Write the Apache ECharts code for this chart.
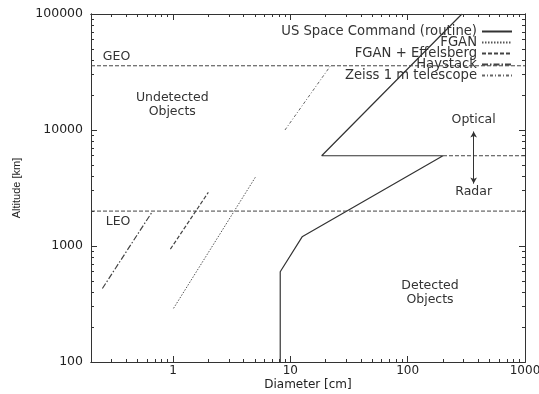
<!DOCTYPE html>
<html><head><meta charset="utf-8">
<script src="https://cdn.jsdelivr.net/npm/echarts@6/dist/echarts.min.js"></script>
<style>html,body{margin:0;padding:0;background:#fff}#c{width:539px;height:394px}</style>
</head><body><div id="c"></div>
<script>
// ---- data ----
const xTickLabels = [1, 10, 100, 1000];
const yTickLabels = [100, 1000, 10000, 100000];
const xMajorTicks = [1, 10, 100, 1000];
const xMinorTicks = [0.2, 0.3, 0.4, 0.5, 0.6, 0.7, 0.8, 0.9, 2, 3, 4, 5, 6, 7, 8, 9, 20, 30, 40, 50, 60, 70, 80, 90, 200, 300, 400, 500, 600, 700, 800, 900];
const yMajorTicks = [100, 1000, 10000, 100000];
const yMinorTicks = [200, 300, 400, 500, 600, 700, 800, 900, 2000, 3000, 4000, 5000, 6000, 7000, 8000, 9000, 20000, 30000, 40000, 50000, 60000, 70000, 80000, 90000];

const seriesNames = ['US Space Command (routine)', 'FGAN', 'FGAN + Effelsberg', 'Haystack', 'Zeiss 1 m telescope'];
const usSpaceCommand = [[8.2, 100], [8.2, 600], [12.6, 1200], [200, 6000], [18.5, 6000], [290, 100000]];
const fgan = [[1.01, 290], [5.1, 4000]];
const fganEffelsberg = [[0.95, 940], [2.0, 2900]];
const haystack = [[0.25, 430], [0.66, 1950]];
const zeiss = [[9, 10000], [22, 35786]];

const geoAltitude = 35786;
const leoAltitude = 2000;
const opticalRadarAltitude = 6000;
const xRange = [0.2, 1000];
const yRange = [100, 100000];

// ---- chart ----
const FONT = 'DejaVu Sans';
const AX = '#333';
const chart = echarts.init(document.getElementById('c'), null, {renderer: 'canvas'});

function xAxisDef(pos, ticks, len, labels, withName) {
  return {
    type: 'log', logBase: 10, min: xRange[0], max: xRange[1], position: pos,
    axisLine: {show: true, lineStyle: {color: AX, width: 1}},
    axisTick: {show: true, inside: true, length: len, customValues: ticks, lineStyle: {color: AX, width: 1}},
    axisLabel: labels ? {show: true, customValues: labels, color: '#222', fontFamily: FONT, fontSize: 12, margin: 3,
      formatter: v => String(Math.round(v))} : {show: false},
    splitLine: {show: false}, minorTick: {show: false},
    name: withName ? 'Diameter [cm]' : '', nameLocation: 'middle', nameGap: 17, nameMoveOverlap: false,
    nameTextStyle: {color: '#222', fontFamily: FONT, fontSize: 12}
  };
}
function yAxisDef(pos, ticks, len, labels, withName) {
  return {
    type: 'log', logBase: 10, min: yRange[0], max: yRange[1], position: pos,
    axisLine: {show: true, lineStyle: {color: AX, width: 1}},
    axisTick: {show: true, inside: true, length: len, customValues: ticks, lineStyle: {color: AX, width: 1}},
    axisLabel: labels ? {show: true, customValues: labels, color: '#222', fontFamily: FONT, fontSize: 12.5, margin: 8,
      formatter: v => String(Math.round(v))} : {show: false},
    splitLine: {show: false}, minorTick: {show: false},
    name: withName ? 'Altitude [km]' : '', nameLocation: 'middle', nameGap: 69, nameRotate: 90, nameMoveOverlap: false,
    nameTextStyle: {color: '#222', fontFamily: 'Liberation Sans', fontSize: 11}
  };
}

const annoLabel = {color: '#333', fontFamily: FONT, fontSize: 12.5, lineHeight: 14, align: 'center', verticalAlign: 'middle'};
function anno(text, x, y) {
  return {coord: [x, y], value: text, symbol: 'circle', symbolSize: 1,
    itemStyle: {color: 'rgba(0,0,0,0)'},
    label: Object.assign({show: true, position: 'inside', formatter: text}, annoLabel)};
}

function lineSeries(name, data, type, color, width) {
  return {
    name: name, type: 'line', data: data, symbol: 'none', showSymbol: false, silent: true,
    xAxisIndex: 0, yAxisIndex: 0, animation: false,
    itemStyle: {color: color},
    lineStyle: {color: color, width: width, type: type}
  };
}

const series = [
  lineSeries(seriesNames[0], usSpaceCommand, 'solid', '#333', 1.2),
  lineSeries(seriesNames[1], fgan, [1.5, 1.5], '#555', 1),
  lineSeries(seriesNames[2], fganEffelsberg, [4, 2], '#444', 1.2),
  lineSeries(seriesNames[3], haystack, [6, 2, 1.5, 2], '#444', 1.2),
  lineSeries(seriesNames[4], zeiss, [3, 2, 1, 2], '#666', 1),
  Object.assign(lineSeries('geo', [[xRange[0], geoAltitude], [xRange[1], geoAltitude]], [4, 2], '#444', 1), {
    markPoint: {silent: true, animation: false, data: [
      anno('GEO', 0.33, 42500),
      anno('LEO', 0.34, 1620),
      anno('Undetected\nObjects', 0.985, 16500),
      anno('Optical', 365, 12200),
      anno('Radar', 365, 2925),
      anno('Detected\nObjects', 155, 394)
    ]},
    markLine: {silent: true, animation: false, symbol: ['arrow', 'arrow'], symbolSize: [5, 6],
      lineStyle: {color: '#333', width: 1, type: 'solid'}, label: {show: false},
      data: [[{coord: [365, 9700]}, {coord: [365, 3450]}]]}
  }),
  lineSeries('leo', [[xRange[0], leoAltitude], [xRange[1], leoAltitude]], [4, 2], '#444', 1),
  lineSeries('boundary', [[200, opticalRadarAltitude], [xRange[1], opticalRadarAltitude]], [4, 2], '#444', 1)
];

chart.setOption({
  backgroundColor: '#fff',
  animation: false,
  grid: {left: 91, right: 14, top: 14, bottom: 32, containLabel: false, outerBoundsMode: 'none'},
  legend: {
    data: seriesNames, orient: 'vertical', align: 'right', right: 26, top: 25,
    itemWidth: 30, itemHeight: 8, itemGap: -2, padding: 0,
    itemStyle: {opacity: 0},
    textStyle: {color: '#333', fontFamily: FONT, fontSize: 13.2},
    selectedMode: false
  },
  xAxis: [
    xAxisDef('bottom', xMajorTicks, 6, xTickLabels, true),
    xAxisDef('bottom', xMinorTicks, 3, null, false),
    xAxisDef('top', xMajorTicks, 6, null, false),
    xAxisDef('top', xMinorTicks, 3, null, false)
  ],
  yAxis: [
    yAxisDef('left', yMajorTicks, 6, yTickLabels, true),
    yAxisDef('left', yMinorTicks, 3, null, false),
    yAxisDef('right', yMajorTicks, 6, null, false),
    yAxisDef('right', yMinorTicks, 3, null, false)
  ],
  series: series
});
</script></body></html>
